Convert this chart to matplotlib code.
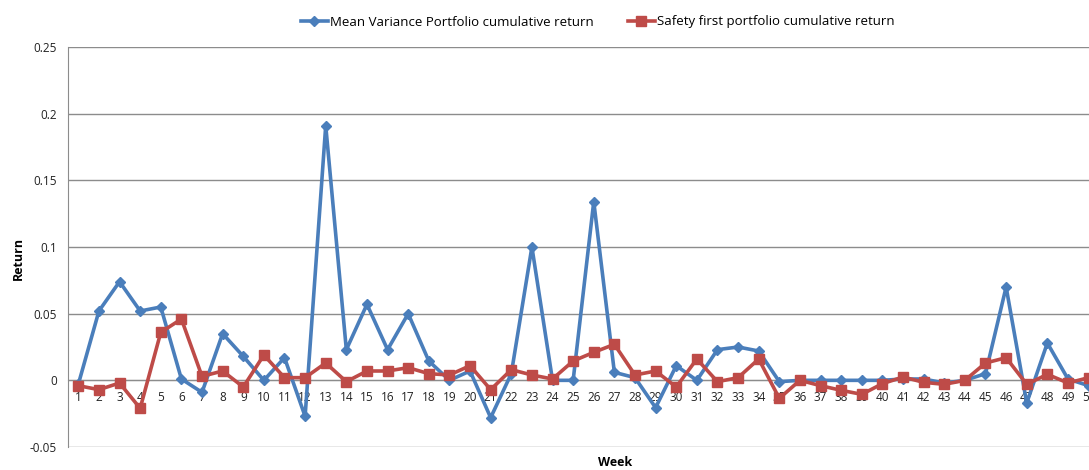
import numpy as np
import matplotlib
matplotlib.use("Agg")
import matplotlib.pyplot as plt

plt.rcParams['font.family'] = ['Open Sans', 'DejaVu Sans']

weeks = list(range(1, 51))

# Mean Variance Portfolio cumulative return
mean_var = [-0.003, 0.052, 0.074, 0.052, 0.055, 0.001, -0.009, 0.035, 0.018, 0.000,
            0.017, -0.027, 0.191, 0.023, 0.057, 0.023, 0.050, 0.0145, 0.000, 0.007,
            -0.028, 0.005, 0.100, 0.000, 0.000, 0.134, 0.006, 0.002, -0.0205, 0.011,
            0.000, 0.023, 0.025, 0.022, -0.001, 0.000, 0.000, 0.000, 0.000, 0.000,
            0.001, 0.001, -0.002, 0.000, 0.005, 0.070, -0.017, 0.028, 0.001, -0.004]

# Safety first portfolio cumulative return
safety = [-0.004, -0.007, -0.002, -0.021, 0.036, 0.046, 0.003, 0.007, -0.005, 0.019,
          0.002, 0.002, 0.013, -0.001, 0.007, 0.007, 0.0095, 0.005, 0.004, 0.011,
          -0.007, 0.008, 0.004, 0.001, 0.0145, 0.021, 0.027, 0.004, 0.007, -0.005,
          0.016, -0.001, 0.002, 0.016, -0.0135, 0.000, -0.004, -0.0075, -0.0105, -0.0025,
          0.0025, -0.0015, -0.003, 0.000, 0.013, 0.017, -0.003, 0.0045, -0.002, 0.002]

yticks = [-0.05, 0, 0.05, 0.1, 0.15, 0.2, 0.25]
ytick_labels = ['-0.05', '0', '0.05', '0.1', '0.15', '0.2', '0.25']

blue = '#4A7EBB'
red = '#BE4B48'
grey = '#8C8C8C'

W, H = 1089, 470
fig = plt.figure(figsize=(W / 100, H / 100), dpi=100)
ax = fig.add_axes([68 / W, 23 / H, 1 - 68 / W, 400 / H])

ax.plot(weeks, mean_var, color=blue, lw=2.6, marker='D', ms=5.5,
        label='Mean Variance Portfolio cumulative return', zorder=3)
ax.plot(weeks, safety, color=red, lw=2.6, marker='s', ms=7,
        label='Safety first portfolio cumulative return', zorder=4)

ax.set_xlim(0.5, 50.02)
ax.set_ylim(-0.05, 0.25)
ax.set_yticks(yticks)
ax.set_yticklabels(ytick_labels)
ax.set_xticks(weeks)
ax.set_xticklabels([str(w) for w in weeks])

ax.grid(axis='y', color=grey, lw=1.0)
ax.set_axisbelow(True)
for s in ['top', 'right']:
    ax.spines[s].set_visible(False)
ax.spines['left'].set_color(grey)
ax.spines['bottom'].set_position(('data', 0))
ax.spines['bottom'].set_color(grey)
ax.tick_params(axis='x', length=0, pad=8, labelsize=8.5, colors='#222222')
ax.tick_params(axis='y', length=0, pad=8, labelsize=8.5, colors='#222222')
for lbl in ax.get_yticklabels():
    lbl.set_clip_on(False)

fig.text(615 / W, 1 - 463 / H, 'Week', ha='center', va='center',
         fontsize=9, fontweight='bold')
fig.text(18 / W, 1 - 258 / H, 'Return', ha='center', va='center',
         rotation=90, fontsize=9, fontweight='bold')

fig.legend(loc='center', bbox_to_anchor=(598 / W, 1 - 22 / H), ncol=2,
           frameon=False, fontsize=9.5, handlelength=2.0, handletextpad=0.2,
           columnspacing=2.6, borderaxespad=0)

fig.savefig('out.png', dpi=100)
